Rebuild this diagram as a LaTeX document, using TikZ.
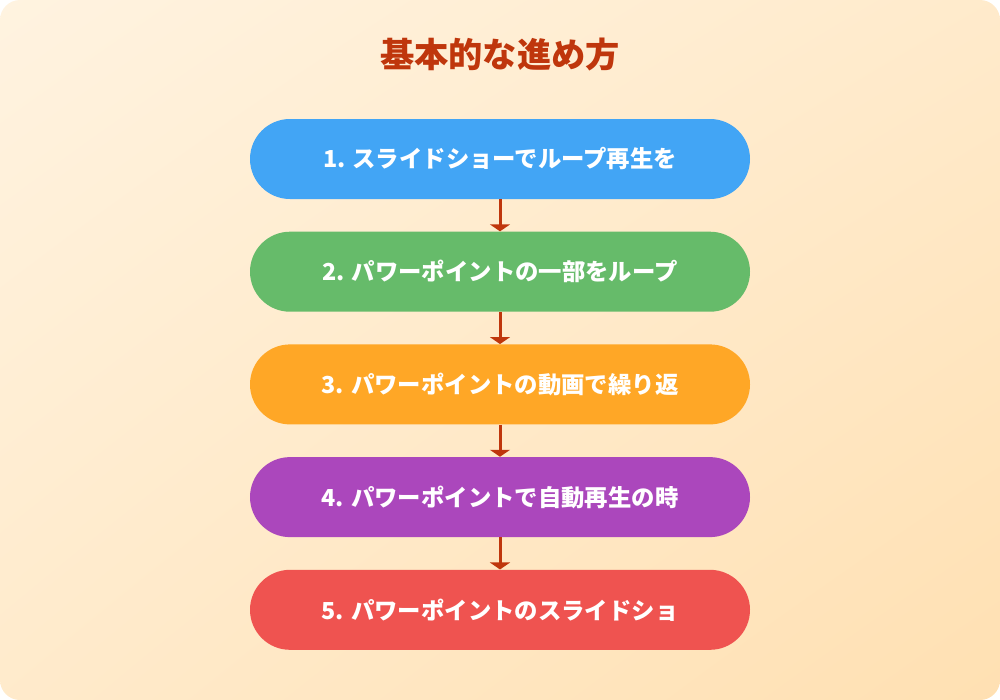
\documentclass[tikz,border=0pt]{standalone}
\usepackage{fontspec}
\newfontfamily\jpfont{Noto Sans CJK JP}
\usetikzlibrary{positioning,arrows.meta,shadings}
\definecolor{bgtop}{HTML}{FFF3E0}
\definecolor{bgbot}{HTML}{FFE0B2}
\definecolor{titlecol}{HTML}{BF360C}
\definecolor{stepblue}{HTML}{42A5F5}
\definecolor{stepgreen}{HTML}{66BB6A}
\definecolor{steporange}{HTML}{FFA726}
\definecolor{steppurple}{HTML}{AB47BC}
\definecolor{stepred}{HTML}{EF5350}
\tikzset{
	stepbox/.style={rounded corners=0.8cm, minimum width=10cm, minimum height=1.6cm,
		text=white, font=\jpfont\bfseries\fontsize{13.3}{16}\selectfont},
	flow/.style={titlecol, line width=0.06cm, -{Triangle[width=0.4cm,length=0.14cm]}}
}
\begin{document}
\begin{tikzpicture}
		\useasboundingbox (0, 0) rectangle (20, -14);
		\shade[rounded corners=0.4cm, upper left=bgtop, lower right=bgbot, upper right=bgtop!55!bgbot, lower left=bgtop!55!bgbot] (0, 0) rectangle (20, -14);
		\node[titlecol, font=\jpfont\bfseries\fontsize{19.5}{23}\selectfont] (title) at (10, -1.1) {基本的な進め方};
		\node[stepbox, fill=stepblue] (s1) at (10, -3.18) {1. スライドショーでループ再生を};
		\node[stepbox, fill=stepgreen, below=0.64cm of s1] (s2) {2. パワーポイントの一部をループ};
		\node[stepbox, fill=steporange, below=0.64cm of s2] (s3) {3. パワーポイントの動画で繰り返};
		\node[stepbox, fill=steppurple, below=0.64cm of s3] (s4) {4. パワーポイントで自動再生の時};
		\node[stepbox, fill=stepred, below=0.64cm of s4] (s5) {5. パワーポイントのスライドショ};
		\foreach \a/\b in {s1/s2, s2/s3, s3/s4, s4/s5}
			\draw[flow] (\a) -- (\b);
	\end{tikzpicture}
\end{document}
